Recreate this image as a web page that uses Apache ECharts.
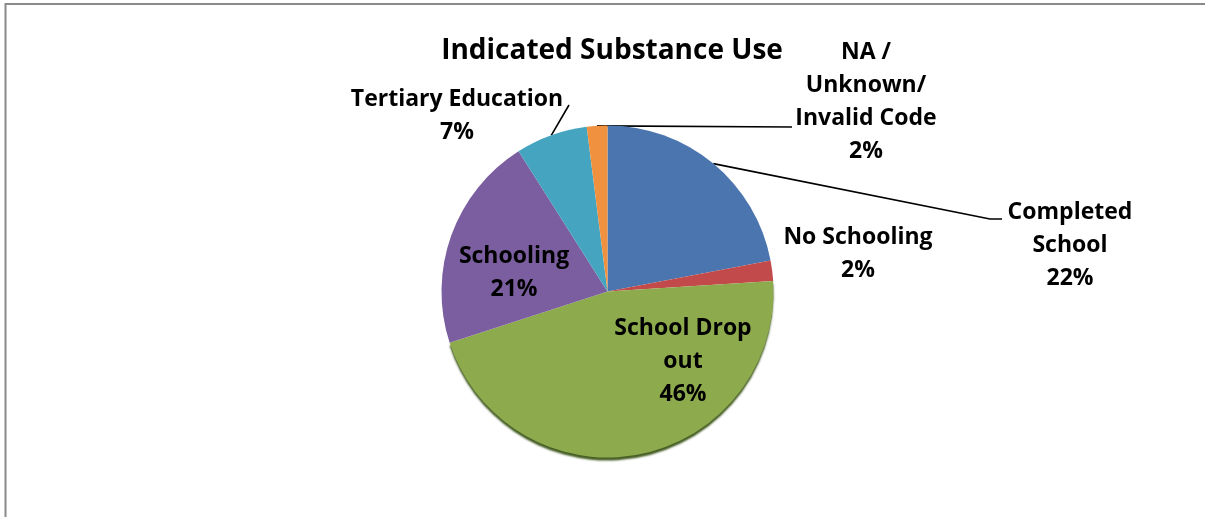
<!DOCTYPE html>
<html>
<head>
<meta charset="utf-8">
<script src="https://cdn.jsdelivr.net/npm/echarts@6/dist/echarts.min.js"></script>
<style>
html,body{margin:0;padding:0;background:#fff;}
#c{width:1205px;height:517px;}
</style>
</head>
<body>
<div id="c"></div>
<script>
// ---- data ----
const title = 'Indicated Substance Use';
const categories = ['Completed\nSchool', 'No Schooling', 'School Drop\nout', 'Schooling', 'Tertiary Education', 'NA /\nUnknown/\nInvalid Code'];
const values = [22, 2, 46, 21, 7, 2];
const colors = ['#4A75AE', '#C24A4A', '#8DAA4C', '#7B5E9F', '#45A5C0', '#F0913F'];

// ---- label layout (positions of label centres, leader-line elbows) ----
const labelPos = [
  {x: 1070, y: 245, line: [[990, 219], [1002, 219]]},
  {x: 858, y: 254},
  {x: 683, y: 361},
  {x: 514, y: 273},
  {x: 457, y: 116, line: [[569, 105]]},
  {x: 866, y: 102, line: [[792, 127]]}
];

const chart = echarts.init(document.getElementById('c'), null, {renderer: 'canvas'});
const FONT = '"Open Sans"';

const data = categories.map((name, i) => {
  const item = {name: name, value: values[i], itemStyle: {color: colors[i]}};
  if (!labelPos[i].line) item.labelLine = {show: false};
  if (i === 2) {
    item.itemStyle.shadowColor = 'rgba(60,85,25,0.95)';
    item.itemStyle.shadowOffsetY = 3;
    item.itemStyle.shadowBlur = 2;
  }
  return item;
});

chart.setOption({
  backgroundColor: '#fff',
  animation: false,
  title: {
    text: title,
    left: 607, top: 46, textAlign: 'center', textVerticalAlign: 'middle',
    textStyle: {fontFamily: FONT, fontWeight: 'bold', fontSize: 28, color: '#000'}
  },
  graphic: [{
    type: 'polyline',
    shape: {points: [[5.5, 517], [5.5, 4], [1205, 4]]},
    style: {stroke: '#8a8a8a', lineWidth: 2, fill: null}
  }],
  series: [{
    type: 'pie',
    center: [607.5, 291.5],
    radius: 166,
    startAngle: 90,
    clockwise: true,
    avoidLabelOverlap: false,
    percentPrecision: 0,
    label: {
      show: true,
      position: 'outside',
      formatter: '{b}\n{d}%',
      fontFamily: FONT, fontWeight: 'bold', fontSize: 23,
      lineHeight: 33, color: '#000', align: 'center'
    },
    labelLine: {show: true, length: 10, length2: 10, lineStyle: {color: '#000', width: 1.6}},
    labelLayout: function (params) {
      const p = labelPos[params.dataIndex];
      const res = {x: p.x, y: p.y, align: 'center', verticalAlign: 'middle'};
      if (p.line && params.labelLinePoints) {
        res.labelLinePoints = [params.labelLinePoints[0]].concat(p.line);
      }
      return res;
    },
    emphasis: {disabled: true},
    data: data
  }]
});
</script>
</body>
</html>
